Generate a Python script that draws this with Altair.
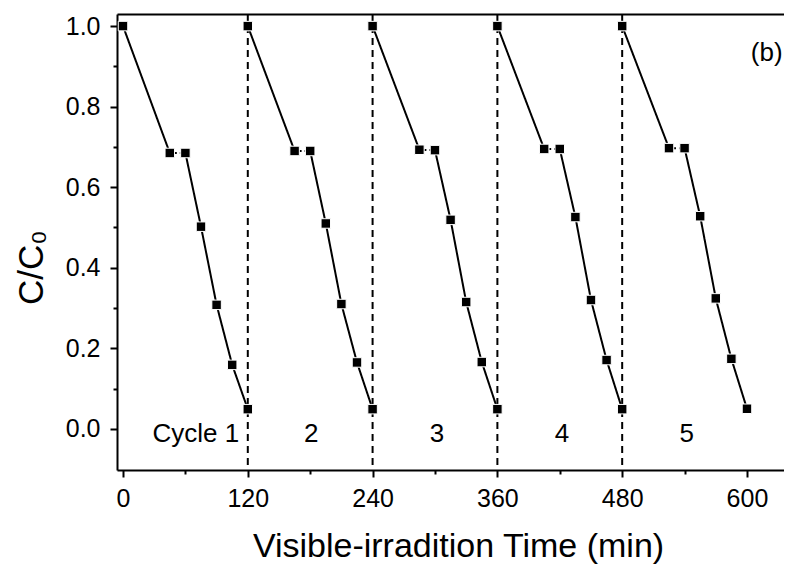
import altair as alt
import pandas as pd

# ---- data ----
times = [0, 45, 60, 75, 90, 105, 120,
         120, 165, 180, 195, 210, 225, 240,
         240, 285, 300, 315, 330, 345, 360,
         360, 405, 420, 435, 450, 465, 480,
         480, 525, 540, 555, 570, 585, 600]
ratio = [1.0, 0.685, 0.685, 0.502, 0.308, 0.159, 0.049,
         1.0, 0.690, 0.690, 0.510, 0.310, 0.165, 0.049,
         1.0, 0.693, 0.692, 0.519, 0.315, 0.166, 0.049,
         1.0, 0.695, 0.695, 0.526, 0.320, 0.171, 0.049,
         1.0, 0.697, 0.697, 0.528, 0.324, 0.174, 0.050]
cycle = [1] * 7 + [2] * 7 + [3] * 7 + [4] * 7 + [5] * 7

cycle_bounds = [120, 240, 360, 480]
cycle_labels = ["Cycle 1", "2", "3", "4", "5"]
cycle_label_x = [70, 181, 302, 422, 542]
cycle_label_y = [-0.013, -0.013, -0.013, -0.013, -0.013]

x_major = [0, 120, 240, 360, 480, 600]
x_minor = [60, 180, 300, 420, 540]
y_major = [0.0, 0.2, 0.4, 0.6, 0.8, 1.0]
y_minor = [0.1, 0.3, 0.5, 0.7, 0.9]

panel_label = ["(b)"]
panel_label_x = [619]
panel_label_y = [0.933]

FONT = "Liberation Sans"

# ---- build tables ----
pts = pd.DataFrame({"t": times, "c": ratio, "cycle": cycle})

# line segments: solid start, dotted plateau, solid decay
seg_rows = []
for k in range(5):
    sub = pts[pts.cycle == k + 1].reset_index(drop=True)
    pieces = [("solid", [0, 1]), ("dot", [1, 2]), ("solid", list(range(2, 7)))]
    for j, (style, idx) in enumerate(pieces):
        for i in idx:
            seg_rows.append({"t": sub.t[i], "c": sub.c[i], "seg": f"{k}-{j}",
                             "style": style, "order": i})
segs = pd.DataFrame(seg_rows)

bounds = pd.DataFrame({"t": cycle_bounds})
labels = pd.DataFrame({"t": cycle_label_x, "c": cycle_label_y, "txt": cycle_labels})
panel = pd.DataFrame({"t": panel_label_x, "c": panel_label_y, "txt": panel_label})

xs = alt.Scale(domain=[-5.77, 635.6], nice=False, zero=False)
ys = alt.Scale(domain=[-0.102, 1.03], nice=False, zero=False)

x_main_axis = alt.Axis(values=x_major, orient="bottom", tickSize=7, tickWidth=2,
                       domainWidth=2, domainColor="black", tickColor="black",
                       labelFont=FONT, labelFontSize=25, labelColor="black",
                       labelPadding=9, grid=False,
                       title="Visible-irradition Time (min)", titleFont=FONT,
                       titleFontSize=34, titleFontWeight="normal", titleColor="black",
                       titleX=341, titleY=86, titleBaseline="alphabetic",
                       titleAlign="center", titleAnchor="start")
y_main_axis = alt.Axis(values=y_major, orient="left", format=".1f", tickSize=7,
                       tickWidth=2, domainWidth=2, domainColor="black",
                       tickColor="black", labelFont=FONT, labelFontSize=25,
                       labelColor="black", labelPadding=10, grid=False,
                       title="C/C₀", titleFont=FONT, titleFontSize=35,
                       titleFontWeight="normal", titleColor="black",
                       titleAngle=-90, titleX=-75, titleY=253,
                       titleBaseline="alphabetic", titleAlign="center",
                       titleAnchor="start")

lines = alt.Chart(segs).mark_line(color="black", strokeWidth=2).encode(
    x=alt.X("t:Q", scale=xs, axis=x_main_axis),
    y=alt.Y("c:Q", scale=ys, axis=y_main_axis),
    detail="seg:N",
    order="order:Q",
    strokeDash=alt.StrokeDash("style:N",
                              scale=alt.Scale(domain=["solid", "dot"],
                                              range=[[1, 0], [2, 3]]),
                              legend=None),
)

x_minor_axis = alt.Axis(values=x_minor, orient="bottom", tickSize=4, tickWidth=2,
                        tickColor="black", labels=False, domain=False,
                        grid=False, title=None)
y_minor_axis = alt.Axis(values=y_minor, orient="left", tickSize=4, tickWidth=2,
                        tickColor="black", labels=False, domain=False,
                        grid=False, title=None)

points = alt.Chart(pts).mark_square(color="black", size=90, opacity=1,
                                    stroke="white", strokeWidth=1).encode(
    x=alt.X("t:Q", scale=xs, axis=x_minor_axis),
    y=alt.Y("c:Q", scale=ys, axis=y_minor_axis),
)

x_top_axis = alt.Axis(orient="top", ticks=False, labels=False, domainWidth=2,
                      domainColor="black", grid=False, title=None)

rules = alt.Chart(bounds).mark_rule(color="black", strokeWidth=2,
                                    strokeDash=[7, 5]).encode(
    x=alt.X("t:Q", scale=xs, axis=x_top_axis),
)

cyc_text = alt.Chart(labels).mark_text(font=FONT, fontSize=26, color="black",
                                       align="center", baseline="middle").encode(
    x=alt.X("t:Q", scale=xs, axis=None),
    y=alt.Y("c:Q", scale=ys, axis=None),
    text="txt:N",
)

panel_text = alt.Chart(panel).mark_text(font=FONT, fontSize=26, color="black",
                                        align="center", baseline="middle").encode(
    x=alt.X("t:Q", scale=xs, axis=None),
    y=alt.Y("c:Q", scale=ys, axis=None),
    text="txt:N",
)

chart = alt.layer(rules, lines, points, cyc_text, panel_text).resolve_axis(
    x="independent", y="independent"
).properties(
    width=667, height=456,
    autosize=alt.AutoSizeParams(type="none"),
    padding={"left": 109, "top": 6, "right": 0, "bottom": 96},
    background="white",
).configure_view(stroke=None)

chart.save("out.html", embed_options={"renderer": "svg", "actions": False})
